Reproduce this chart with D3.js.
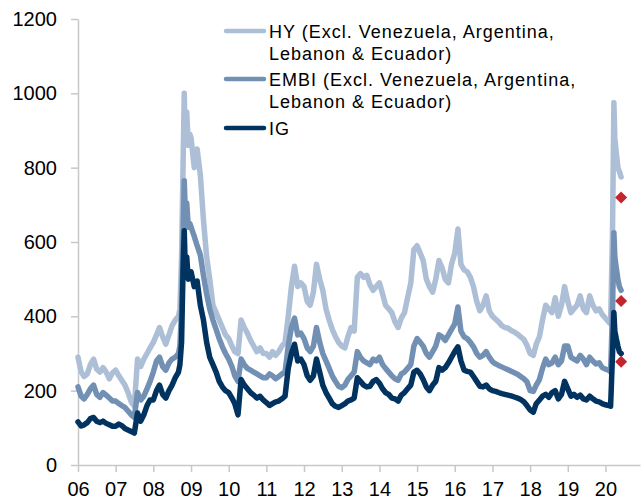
<!DOCTYPE html>
<html>
<head>
<meta charset="utf-8">
<script src="https://cdn.jsdelivr.net/npm/d3@7"></script>
<style>
  body { margin: 0; background: #fff; }
  svg { display: block; font-family: "Liberation Sans", Arial, sans-serif; }
</style>
</head>
<body>
<div id="chart"></div>
<script>
// spread data (bp)
const dates = [
  "2006-01","2006-02","2006-03","2006-04","2006-05","2006-06","2006-07","2006-08","2006-09","2006-10","2006-11","2006-12",
  "2007-01","2007-02","2007-03","2007-04","2007-05","2007-06","2007-07","2007-08","2007-09","2007-10","2007-11","2007-12",
  "2008-01","2008-02","2008-03","2008-04","2008-05","2008-06","2008-07","2008-08","2008-09","2008-09-15","2008-10-01","2008-10-15","2008-10-27","2008-11-05","2008-11-20","2008-12-05","2008-12-20",
  "2009-01","2009-02","2009-03","2009-04","2009-05","2009-06","2009-07","2009-08","2009-09","2009-10","2009-11","2009-12",
  "2010-01","2010-02","2010-03","2010-04","2010-05","2010-06","2010-07","2010-08","2010-09","2010-10","2010-11","2010-12",
  "2011-01","2011-02","2011-03","2011-04","2011-05","2011-06","2011-07","2011-08","2011-09","2011-10","2011-11","2011-12",
  "2012-01","2012-02","2012-03","2012-04","2012-05","2012-06","2012-07","2012-08","2012-09","2012-10","2012-11","2012-12",
  "2013-01","2013-02","2013-03","2013-04","2013-05","2013-06","2013-07","2013-08","2013-09","2013-10","2013-11","2013-12",
  "2014-01","2014-02","2014-03","2014-04","2014-05","2014-06","2014-07","2014-08","2014-09","2014-10","2014-11","2014-12",
  "2015-01","2015-02","2015-03","2015-04","2015-05","2015-06","2015-07","2015-08","2015-09","2015-10","2015-11","2015-12",
  "2016-01","2016-02","2016-03","2016-04","2016-05","2016-06","2016-07","2016-08","2016-09","2016-10","2016-11","2016-12",
  "2017-01","2017-02","2017-03","2017-04","2017-05","2017-06","2017-07","2017-08","2017-09","2017-10","2017-11","2017-12",
  "2018-01","2018-02","2018-03","2018-04","2018-05","2018-06","2018-07","2018-08","2018-09","2018-10","2018-11","2018-12",
  "2019-01","2019-02","2019-03","2019-04","2019-05","2019-06","2019-07","2019-08","2019-09","2019-10","2019-11","2019-12",
  "2020-01","2020-02","2020-02-20","2020-03-10","2020-03-23","2020-04-01","2020-04-15","2020-05-01","2020-05-15","2020-06-01"
];

const hy = [
  290,250,238,245,270,285,258,250,262,250,232,248,
  255,240,228,215,195,170,158,285,265,285,300,315,
  330,350,370,345,325,350,375,390,400,420,560,800,1000,880,950,860,890,
  880,800,850,780,660,560,500,430,410,390,370,350,
  340,320,305,300,390,370,355,335,320,305,315,300,
  300,290,305,295,305,320,330,400,480,535,480,490,
  480,440,430,465,540,500,470,420,390,365,345,330,
  320,315,345,370,360,505,515,505,510,485,470,480,
  490,460,430,420,410,385,370,395,410,450,490,580,
  590,570,550,500,480,465,500,550,530,500,490,540,
  570,635,540,525,520,505,480,440,415,430,455,415,
  400,392,385,375,370,368,362,358,352,345,338,322,
  300,295,325,345,390,430,420,410,450,400,430,480,
  440,410,420,430,455,420,410,455,430,415,420,405,
  395,385,380,640,975,880,840,800,790,775
];

const embi = [
  210,185,178,190,205,215,190,182,195,188,180,172,
  172,165,160,155,145,135,128,195,175,185,205,225,
  250,280,290,265,255,275,285,290,300,320,420,600,765,690,705,640,650,
  640,615,590,565,510,460,420,390,365,340,318,300,
  285,265,240,225,285,270,260,255,250,245,240,235,
  235,245,240,232,238,245,250,320,370,395,350,355,
  340,315,305,320,370,330,300,280,260,240,225,212,
  208,215,230,240,250,305,290,280,275,270,285,280,
  290,270,260,250,240,232,228,245,250,260,270,320,
  340,330,320,300,290,305,320,350,345,335,350,365,
  380,425,360,345,340,330,318,300,290,295,305,290,
  278,272,268,264,260,256,252,248,244,238,232,224,
  200,198,215,230,260,285,270,275,290,270,280,320,
  320,290,285,280,295,285,270,290,280,272,275,262,
  258,255,250,420,625,560,530,500,480,470
];

const ig = [
  116,105,108,114,125,128,118,114,118,112,108,104,
  104,110,106,98,94,90,86,140,118,135,160,175,
  175,200,215,190,180,200,215,235,250,270,330,520,630,540,560,500,520,
  520,480,495,430,390,330,290,270,250,225,210,200,
  195,180,165,135,230,215,205,195,188,180,185,175,
  168,160,165,170,172,178,185,260,300,325,280,285,
  270,240,228,240,285,250,215,195,180,165,158,155,
  160,165,172,175,180,235,225,215,210,212,225,230,
  220,205,195,190,180,178,172,188,195,205,215,250,
  255,245,230,210,200,215,225,262,255,262,275,290,
  305,318,280,255,252,250,238,225,212,210,215,205,
  200,198,195,192,190,188,186,183,180,176,170,160,
  148,142,165,175,185,190,182,195,200,178,190,225,
  205,185,190,182,188,178,175,185,178,172,170,165,
  162,160,158,300,410,360,340,320,305,300
];

const markerDate = "2020-06-01";
const markerValues = [720, 441, 278];

const yTicks = [0, 200, 400, 600, 800, 1000, 1200];
const xTickYears = [2006,2007,2008,2009,2010,2011,2012,2013,2014,2015,2016,2017,2018,2019,2020];
const xTickLabels = ["06","07","08","09","10","11","12","13","14","15","16","17","18","19","20"];

const seriesNames = [
  ["HY (Excl. Venezuela, Argentina,", "Lebanon & Ecuador)"],
  ["EMBI (Excl. Venezuela, Argentina,", "Lebanon & Ecuador)"],
  ["IG"]
];
const seriesColors = ["#adbfd6", "#7190b3", "#00335f"];

const width = 643, height = 502;
const margin = {top: 19, right: 3, bottom: 37, left: 78};

const parseDate = s => s.length > 7 ? d3.timeParse("%Y-%m-%d")(s) : d3.timeParse("%Y-%m")(s);
const dateObjs = dates.map(parseDate);

const svg = d3.select("#chart").append("svg")
  .attr("width", width)
  .attr("height", height);

const x = d3.scaleTime()
  .domain([new Date(2006, 0, 1), new Date(2020, 11, 1)])
  .range([margin.left, width - margin.right]);

const y = d3.scaleLinear()
  .domain([0, 1200])
  .range([height - margin.bottom, margin.top]);

// y axis
const yAxis = svg.append("g")
  .attr("transform", `translate(${margin.left},0)`)
  .call(d3.axisLeft(y).tickValues(yTicks).tickFormat(d3.format("d"))
    .tickSize(7).tickSizeOuter(0).tickPadding(14));

// x axis
const xAxis = svg.append("g")
  .attr("transform", `translate(0,${height - margin.bottom})`)
  .call(d3.axisBottom(x)
    .tickValues(xTickYears.map(yr => new Date(yr, 0, 1)))
    .tickFormat((d, i) => xTickLabels[i])
    .tickSize(7).tickSizeOuter(0).tickPadding(10));

[yAxis, xAxis].forEach(ax => {
  ax.select(".domain").attr("stroke", "#c8c8c8").attr("stroke-width", 1.5);
  ax.selectAll(".tick line").attr("stroke", "#c8c8c8").attr("stroke-width", 1.5);
  ax.selectAll(".tick text").attr("fill", "#000").style("font-size", "20px")
    .style("font-family", "'Liberation Sans', Arial, sans-serif");
});

// lines
const allSeries = [hy, embi, ig];
const line = d3.line()
  .x((d, i) => x(dateObjs[i]))
  .y(d => y(d));

allSeries.forEach((vals, k) => {
  svg.append("path")
    .datum(vals)
    .attr("fill", "none")
    .attr("stroke", seriesColors[k])
    .attr("stroke-width", 5.5)
    .attr("stroke-linejoin", "round")
    .attr("stroke-linecap", "round")
    .attr("d", line);
});

// red diamond markers
svg.selectAll(".marker")
  .data(markerValues)
  .join("path")
  .attr("class", "marker")
  .attr("d", d3.symbol(d3.symbolSquare, 72))
  .attr("transform", d => `translate(${x(parseDate(markerDate))},${y(d)}) rotate(45)`)
  .attr("fill", "#c4242c");

// legend
const legendRows = [31, 79, 128];
const legend = svg.append("g");
seriesNames.forEach((lines, k) => {
  const ly = legendRows[k];
  legend.append("line")
    .attr("x1", 226).attr("x2", 264)
    .attr("y1", ly).attr("y2", ly)
    .attr("stroke", seriesColors[k])
    .attr("stroke-width", 4.5)
    .attr("stroke-linecap", "round");
  lines.forEach((t, j) => {
    legend.append("text")
      .attr("x", 269)
      .attr("y", ly + 7 + j * 21.7)
      .style("font-size", "18px")
      .style("letter-spacing", "1px")
      .attr("fill", "#000")
      .text(t);
  });
});
</script>
</body>
</html>
